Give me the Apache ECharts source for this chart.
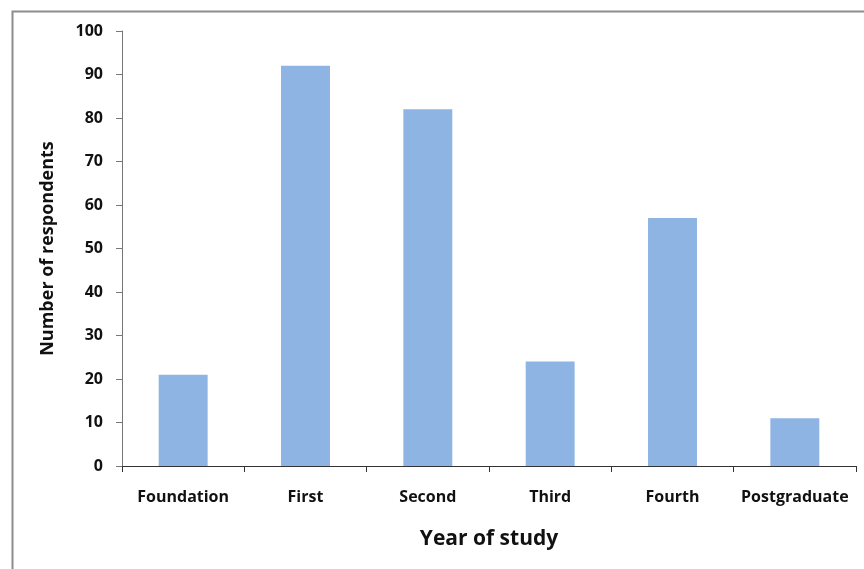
<!DOCTYPE html>
<html>
<head>
<meta charset="utf-8">
<script src="https://cdn.jsdelivr.net/npm/echarts@6/dist/echarts.min.js"></script>
<style>
  html, body { margin: 0; padding: 0; background: #fff; }
  #chart { width: 864px; height: 569px; }
</style>
</head>
<body>
<div id="chart"></div>
<script>
// Survey respondents by year of study
const categories = ['Foundation', 'First', 'Second', 'Third', 'Fourth', 'Postgraduate'];
const respondents = [21, 92, 82, 24, 57, 11];

const fontFamily = '"Open Sans", "Noto Sans", sans-serif';

const chart = echarts.init(document.getElementById('chart'));
chart.setOption({
  animation: false,
  backgroundColor: '#ffffff',
  graphic: [{
    type: 'rect',
    left: 10, top: 9,
    shape: { width: 900, height: 600 },
    style: { fill: 'none', stroke: '#8c8c8c', lineWidth: 2 },
    silent: true
  }],
  grid: { left: 122, top: 31, right: 8, bottom: 103 },
  xAxis: {
    type: 'category',
    data: categories,
    name: 'Year of study',
    nameLocation: 'middle',
    nameGap: 63,
    nameTextStyle: { fontFamily, fontSize: 21, fontWeight: 'bold', color: '#111' },
    axisLine: { lineStyle: { color: '#333', width: 1 } },
    axisTick: { show: true, interval: 0, alignWithLabel: false, length: 6, lineStyle: { color: '#333' } },
    axisLabel: { interval: 0, fontFamily, fontSize: 16, fontWeight: 'bold', color: '#111', margin: 23 }
  },
  yAxis: {
    type: 'value',
    min: 0, max: 100, interval: 10,
    name: 'Number of respondents',
    nameLocation: 'middle',
    nameGap: 65,
    nameTextStyle: { fontFamily, fontSize: 18, fontWeight: 'bold', color: '#111' },
    axisLine: { show: true, lineStyle: { color: '#777', width: 1 } },
    axisTick: { show: true, length: 6, lineStyle: { color: '#777' } },
    axisLabel: { fontFamily, fontSize: 16, fontWeight: 'bold', color: '#111', margin: 19 },
    splitLine: { show: false }
  },
  series: [{
    type: 'bar',
    data: respondents,
    barWidth: '40%',
    itemStyle: { color: '#8eb4e3' }
  }]
});
</script>
</body>
</html>
